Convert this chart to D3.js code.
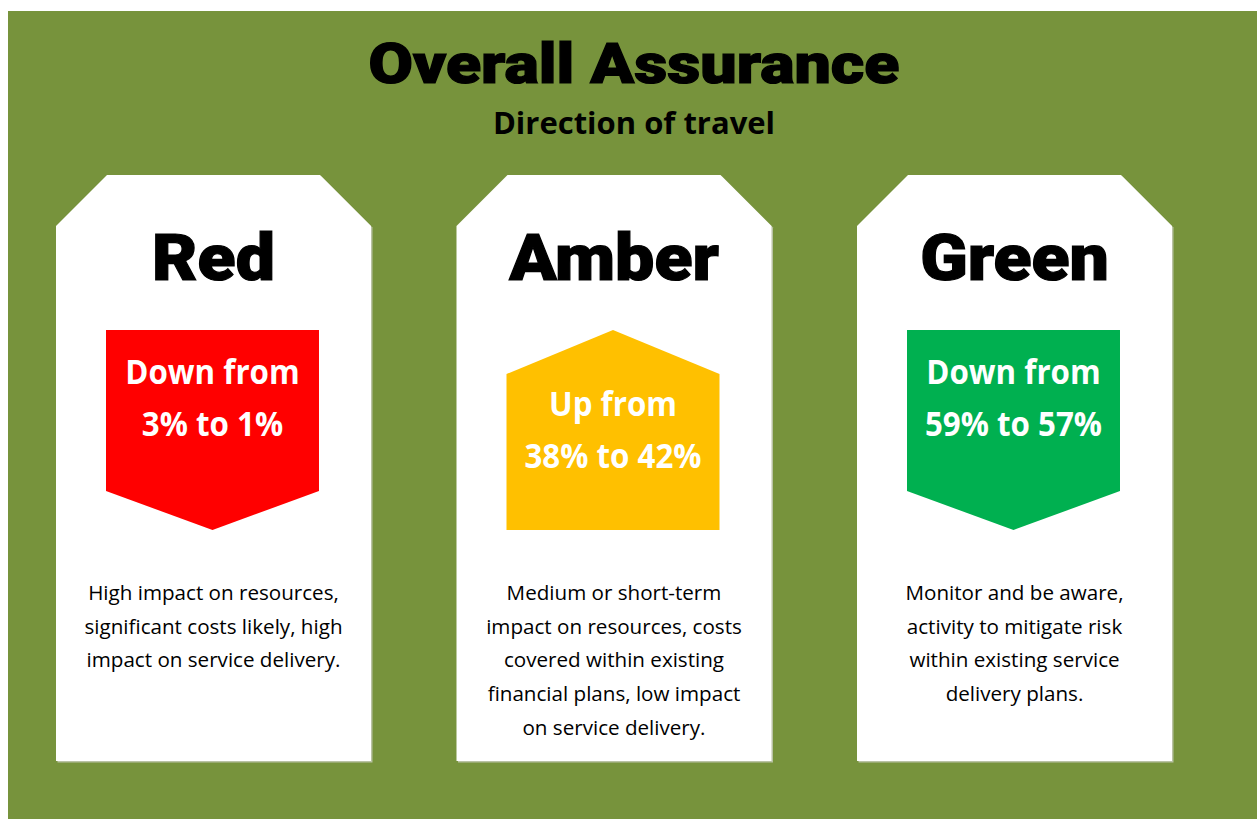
<!DOCTYPE html>
<html>
<head>
<meta charset="utf-8">
<script src="https://cdn.jsdelivr.net/npm/d3@7"></script>
<style>
  body { margin: 0; background: #ffffff; }
  svg { display: block; }
</style>
</head>
<body>
<div id="chart"></div>
<script>
// data
var categories = ["Red", "Amber", "Green"];
var directions = ["Down", "Up", "Down"];
var fromValues = [3, 38, 59];
var toValues = [1, 42, 57];
var descriptions = [
  ["High impact on resources,", "significant costs likely, high", "impact on service delivery."],
  ["Medium or short-term", "impact on resources, costs", "covered within existing", "financial plans, low impact", "on service delivery."],
  ["Monitor and be aware,", "activity to mitigate risk", "within existing service", "delivery plans."]
];

var colors = ["#FF0000", "#FFC000", "#00B050"];

var svgWidth = 1257;
var svgHeight = 819;

var svg = d3.select("#chart")
  .append("svg")
  .attr("width", svgWidth)
  .attr("height", svgHeight);

// olive background panel
svg.append("rect")
  .attr("x", 8)
  .attr("y", 11)
  .attr("width", svgWidth - 8)
  .attr("height", svgHeight - 11)
  .attr("fill", "#77933C");

var heavyFont = "'Arial Black', 'Roboto', 'Inter', sans-serif";
var bodyFont = "'Open Sans', 'Noto Sans', sans-serif";

// stretch/squeeze a text element horizontally to get closer to the original fonts
function squeeze(sel, factor) {
  sel.each(function() {
    var w = this.getComputedTextLength();
    d3.select(this)
      .attr("textLength", w * factor)
      .attr("lengthAdjust", "spacingAndGlyphs");
  });
}

svg.append("text")
  .attr("x", 634)
  .attr("y", 83)
  .attr("text-anchor", "middle")
  .style("font-family", heavyFont)
  .style("font-weight", 900)
  .style("font-size", "56px")
  .attr("stroke", "#000")
  .attr("stroke-width", 1.2)
  .text("Overall Assurance")
  .call(function(t) {
    t.attr("textLength", 531).attr("lengthAdjust", "spacingAndGlyphs");
  });

svg.append("text")
  .attr("x", 634)
  .attr("y", 134)
  .attr("text-anchor", "middle")
  .style("font-family", bodyFont)
  .style("font-weight", 700)
  .style("font-size", "31px")
  .text("Direction of travel")
  .call(squeeze, 1.0);

// card positions
var xScale = d3.scaleBand()
  .domain(categories)
  .range([56, 1172])
  .paddingInner(0.2135)
  .paddingOuter(0);

var cardTop = 175;
var cardBottom = 761;
var chamfer = 51;

var cardData = categories.map(function(c, i) {
  return {
    name: c,
    dir: directions[i],
    from: fromValues[i],
    to: toValues[i],
    lines: descriptions[i],
    color: colors[i]
  };
});

var cards = svg.selectAll(".card")
  .data(cardData)
  .enter()
  .append("g")
  .attr("class", "card")
  .attr("transform", d => `translate(${xScale(d.name)}, 0)`);

var bw = xScale.bandwidth();

function cardPath(dx, dy) {
  return "M" + (chamfer + dx) + "," + (cardTop + dy) +
    "L" + (bw - chamfer + dx) + "," + (cardTop + dy) +
    "L" + (bw + dx) + "," + (cardTop + chamfer + dy) +
    "L" + (bw + dx) + "," + (cardBottom + dy) +
    "L" + dx + "," + (cardBottom + dy) +
    "L" + dx + "," + (cardTop + chamfer + dy) + "Z";
}

// faint shadow edge
cards.append("path")
  .attr("d", cardPath(1.5, 1.5))
  .attr("fill", "#b9c2a4");

cards.append("path")
  .attr("d", cardPath(0, 0))
  .attr("fill", "#ffffff");

// heading
cards.append("text")
  .attr("x", bw / 2)
  .attr("y", 280)
  .attr("text-anchor", "middle")
  .style("font-family", heavyFont)
  .style("font-weight", 900)
  .style("font-size", "64px")
  .attr("stroke", "#000")
  .attr("stroke-width", 1.2)
  .text(d => d.name)
  .call(squeeze, 1.09);

// arrows
var ax0 = 50;
var ax1 = bw - 52;
var arrowTop = 330;
var arrowBottom = 530;

cards.append("path")
  .attr("fill", d => d.color)
  .attr("d", function(d) {
    var mid = (ax0 + ax1) / 2;
    if (d.dir === "Down") {
      var sh = arrowBottom - 39;
      return "M" + ax0 + "," + arrowTop + "L" + ax1 + "," + arrowTop +
        "L" + ax1 + "," + sh + "L" + mid + "," + arrowBottom +
        "L" + ax0 + "," + sh + "Z";
    }
    var sh2 = arrowTop + 44;
    return "M" + mid + "," + arrowTop + "L" + ax1 + "," + sh2 +
      "L" + ax1 + "," + arrowBottom + "L" + ax0 + "," + arrowBottom +
      "L" + ax0 + "," + sh2 + "Z";
  });

cards.each(function(d) {
  var g = d3.select(this);
  var base = d.dir === "Down" ? arrowTop + 54 : arrowTop + 86;
  var lines = [d.dir + " from", d.from + "% to " + d.to + "%"];
  g.selectAll(".arrow-label")
    .data(lines)
    .enter()
    .append("text")
    .attr("class", "arrow-label")
    .attr("x", (ax0 + ax1) / 2)
    .attr("y", (t, i) => base + i * 52)
    .attr("text-anchor", "middle")
    .attr("fill", "#ffffff")
    .style("font-family", bodyFont)
    .style("font-weight", 700)
    .style("font-size", "34px")
    .text(t => t)
    .call(squeeze, 0.92);
});

// description text
cards.each(function(d) {
  d3.select(this).selectAll(".desc")
    .data(d.lines)
    .enter()
    .append("text")
    .attr("class", "desc")
    .attr("x", bw / 2)
    .attr("y", (t, i) => 600 + i * 33.7)
    .attr("text-anchor", "middle")
    .attr("fill", "#000")
    .style("font-family", bodyFont)
    .style("font-size", "20px")
    .text(t => t)
    .call(squeeze, 1.03);
});
</script>
</body>
</html>
